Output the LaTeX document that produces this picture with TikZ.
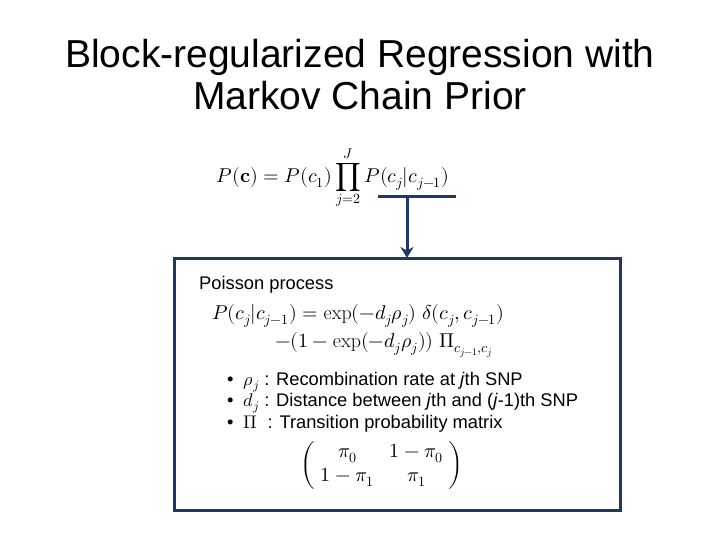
\documentclass[tikz,border=0pt]{standalone}
\usepackage{amsmath}
\usepackage{fontspec}
\setmainfont{Liberation Sans}
\usepackage{unicode-math}
\setmathfont{Latin Modern Math}
\setmathrm{Latin Modern Roman}
\usetikzlibrary{arrows.meta,positioning}
\definecolor{boxblue}{RGB}{31,56,100}
\tikzset{
  title/.style={font=\fontsize{39}{42}\selectfont, align=center},
  bodytext/.style={font=\fontsize{18.3}{21}\selectfont, anchor=west, inner sep=0pt},
  eqn/.style={font=\fontsize{20}{24}\selectfont, inner sep=0pt},
  blueline/.style={draw=boxblue, line width=3pt}
}
\begin{document}
\begin{tikzpicture}[x=1pt,y=-1pt]
		\useasboundingbox (0,0) rectangle (720,540);
		
		\node[title] (ttl) at (360,75) {Block-regularized Regression with\\Markov Chain Prior};
		
		\node[eqn] (prior) at (333,178) {$P(\symbf{c}) = P(c_1)\displaystyle\prod_{j=2}^{J} P(c_j|c_{j-1})$};
		
		\coordinate (barL) at (378,197);
		\coordinate (barR) at (456,197);
		\coordinate (barM) at (407,197);
		\draw[blueline] (barL) -- (barR);
		
		\draw[blueline] (174,258) rectangle (620,510);
		\coordinate (boxtop) at (407,258);
		\draw[blueline, -{Stealth[length=11pt,width=13pt]}] (barM) -- (boxtop);
		
		\node[bodytext] (poisson) at (199,285) {Poisson process};
		\node[eqn, anchor=west] (trans) at (212,316) {$P(c_j|c_{j-1}) = \exp(-d_j\rho_j)\;\delta(c_j,c_{j-1})$};
		\node[eqn, anchor=west] (trans2) at (275,345) {$-(1-\exp(-d_j\rho_j))\;\Pi_{c_{j-1},c_j}$};
		
		\node[bodytext] (rho) at (227,382) {\textbullet\ \ $\rho_j$ : Recombination rate at \textit{j}th SNP};
		\node[bodytext] (dist) at (227,403) {\textbullet\ \ $d_j$ : Distance between \textit{j}th and (\textit{j}-1)th SNP};
		\node[bodytext] (pimat) at (227,424) {\textbullet\ \ $\Pi$ \ : Transition probability matrix};
		
		\node[eqn] (matrix) at (382,465) {$\begin{pmatrix} \;\pi_0 & \;1-\pi_0\; \\ \;1-\pi_1 & \pi_1 \end{pmatrix}$};
	\end{tikzpicture}
\end{document}
